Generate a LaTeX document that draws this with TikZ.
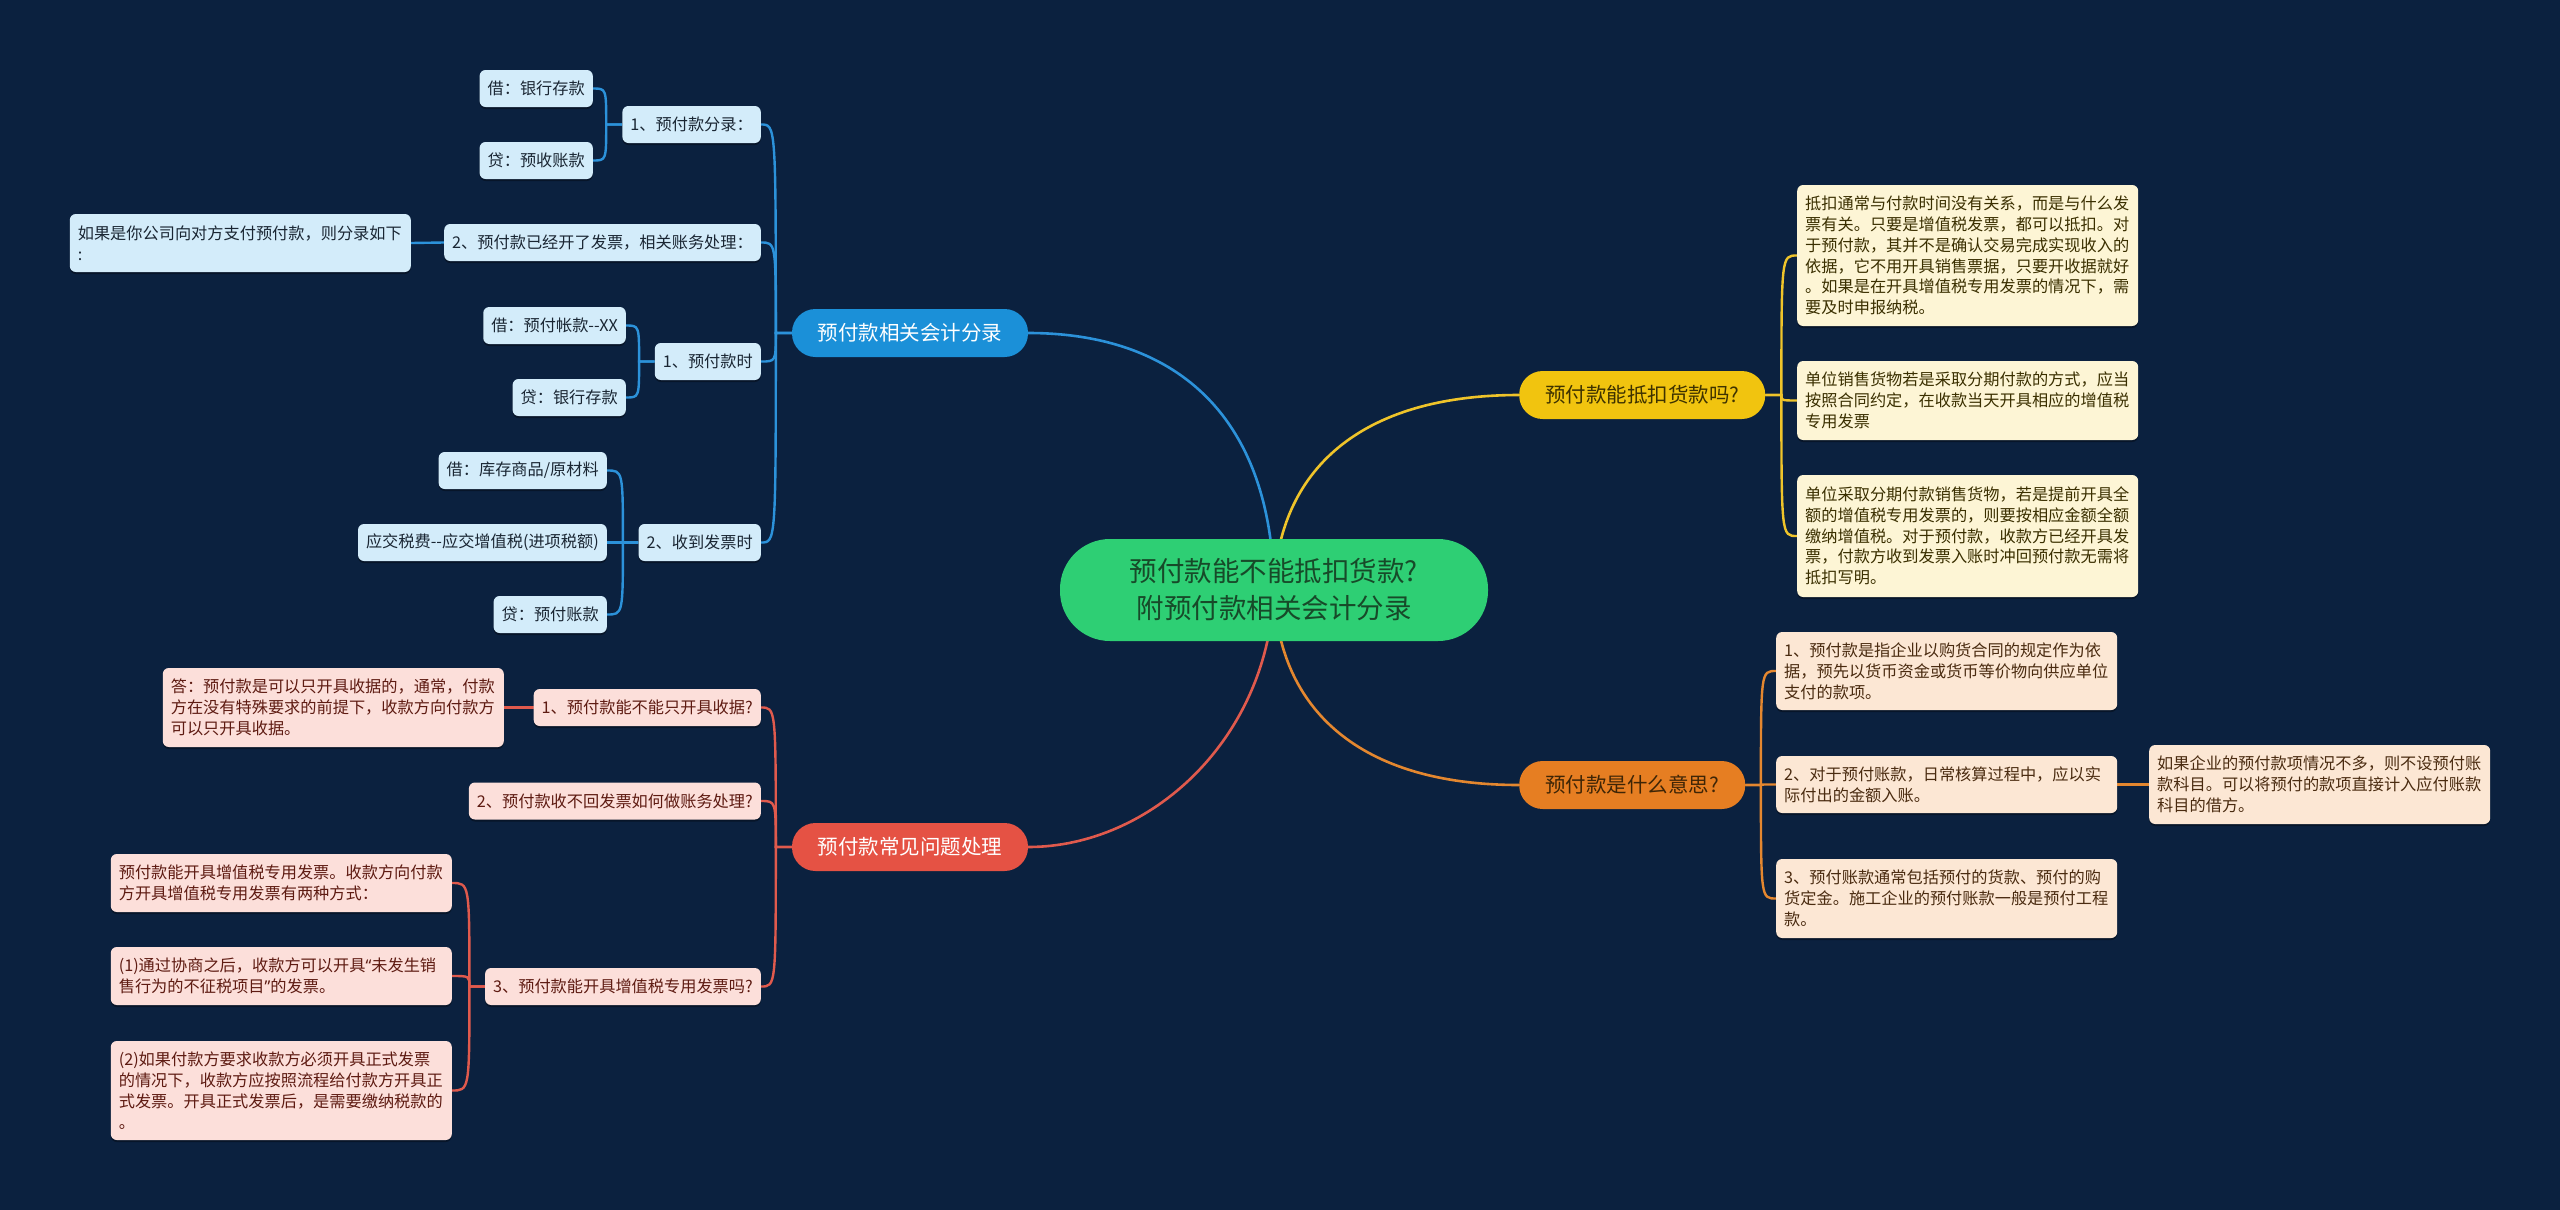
\documentclass[tikz,border=0pt]{standalone}
\usepackage{fontspec}
\setmainfont{Noto Sans CJK SC}
\newfontfamily\latq{Noto Sans}
\usetikzlibrary{calc,shadows}
\pgfdeclarelayer{bgl}
\pgfdeclarelayer{lines}
\pgfsetlayers{bgl,lines,main}
\definecolor{bgc}{HTML}{0B213F}
\definecolor{cgreen}{HTML}{2ECF74}
\definecolor{ctext}{HTML}{174A29}
\definecolor{bnode}{HTML}{1B90D8}
\definecolor{rnode}{HTML}{E55244}
\definecolor{ynode}{HTML}{F1C40F}
\definecolor{onode}{HTML}{E67E22}
\definecolor{ytext}{HTML}{3E3200}
\definecolor{otext}{HTML}{3E2506}
\definecolor{blinec}{HTML}{2C92DA}
\definecolor{rlinec}{HTML}{E05A4D}
\definecolor{ylinec}{HTML}{EFC42A}
\definecolor{olinec}{HTML}{E4872F}
\definecolor{bcardc}{HTML}{D3ECFA}
\definecolor{bcardt}{HTML}{1A2633}
\definecolor{rcardc}{HTML}{FCDFDA}
\definecolor{rcardt}{HTML}{5E1B12}
\definecolor{ycardc}{HTML}{FDF5D5}
\definecolor{ycardt}{HTML}{3A2F00}
\definecolor{ocardc}{HTML}{FCE7D4}
\definecolor{ocardt}{HTML}{4A2B10}
\newcommand\brl[3]{\draw[#1] (#2.west) -- (#2s) .. controls (#2s |- #3.east) and (#2s |- #3.east) .. (#3.east);}
\newcommand\brr[3]{\draw[#1] (#2.east) -- (#2s) .. controls (#2s |- #3.west) and (#2s |- #3.west) .. (#3.west);}
\tikzset{
  card/.style={rounded corners=6pt, inner xsep=8pt, inner ysep=9pt, minimum height=37pt,
    font=\fontsize{16.2}{20.8}\selectfont,
    drop shadow={shadow xshift=0pt,shadow yshift=-2pt,opacity=0.35,fill=black}},
  wcard/.style={text width=325pt, align=left, inner xsep=8pt},
  bcard/.style={card, fill=bcardc, text=bcardt},
  rcard/.style={card, fill=rcardc, text=rcardt},
  ycard/.style={card, fill=ycardc, text=ycardt},
  ocard/.style={card, fill=ocardc, text=ocardt},
  lone/.style={rounded corners=23.5pt, minimum height=48pt, minimum width=236pt, inner sep=0pt,
    font=\fontsize{20.5}{24}\selectfont},
  mainline/.style={line width=2.6pt},
  subline/.style={line width=2.4pt},
  bl/.style={subline, draw=blinec},
  rl/.style={subline, draw=rlinec},
  yl/.style={subline, draw=ylinec},
  ol/.style={subline, draw=olinec}
}
\begin{document}
\begin{tikzpicture}[x=1pt,y=-1pt]
\useasboundingbox (0,0) rectangle (2560,1210);
\begin{pgfonlayer}{bgl}
\fill[bgc] (0,0) rectangle (2560,1210);
\end{pgfonlayer}

% center
\node[fill=cgreen, text=ctext, rounded corners=50pt, minimum width=428pt, minimum height=102pt,
  inner sep=0pt, align=center, font=\fontsize{27.5}{37}\selectfont] (C) at (1274,590)
  {预付款能不能抵扣货款?\\附预付款相关会计分录};

% level 1
\node[lone, fill=bnode, text=white] (B) at (910,333) {预付款相关会计分录};
\node[lone, fill=rnode, text=white] (R) at (910,847) {预付款常见问题处理};
\node[lone, fill=ynode, text=ytext, minimum width=246pt, anchor=west] (Y) at (1519,395) {预付款能抵扣货款吗?};
\node[lone, fill=onode, text=otext, minimum width=226pt, anchor=west] (O) at (1519,785) {预付款是什么意思?};

% blue branch
\node[bcard, anchor=east] (B1) at (761,124.5) {1、预付款分录：};
\node[bcard, anchor=east] (B11) at (593,88.5) {借：银行存款};
\node[bcard, anchor=east] (B12) at (593,160.5) {贷：预收账款};
\node[bcard, anchor=east] (B2) at (761,242.5) {2、预付款已经开了发票，相关账务处理：};
\node[bcard, wcard, anchor=east, minimum height=58pt] (B21) at (411,243) {如果是你公司向对方支付预付款，则分录如下\\:};
\node[bcard, anchor=east] (B3) at (761,361.5) {1、预付款时};
\node[bcard, anchor=east] (B31) at (626,325.5) {借：预付帐款-{}-XX};
\node[bcard, anchor=east] (B32) at (626,397.5) {贷：银行存款};
\node[bcard, anchor=east] (B4) at (761,542.5) {2、收到发票时};
\node[bcard, anchor=east] (B41) at (607,470.5) {借：库存商品/原材料};
\node[bcard, anchor=east] (B42) at (607,542.5) {应交税费-{}-应交增值税(进项税额)};
\node[bcard, anchor=east] (B43) at (607,614.5) {贷：预付账款};

% red branch
\node[rcard, anchor=east] (R1) at (761,707.5) {1、预付款能不能只开具收据?};
\node[rcard, wcard, anchor=east, minimum height=79pt] (R11) at (504,707.5) {答：预付款是可以只开具收据的，通常，付款\\方在没有特殊要求的前提下，收款方向付款方\\可以只开具收据。};
\node[rcard, anchor=east] (R2) at (761,801) {2、预付款收不回发票如何做账务处理?};
\node[rcard, anchor=east] (R3) at (761,986.5) {3、预付款能开具增值税专用发票吗?};
\node[rcard, wcard, anchor=east, minimum height=58pt] (R31) at (452,883) {预付款能开具增值税专用发票。收款方向付款\\方开具增值税专用发票有两种方式：};
\node[rcard, wcard, anchor=east, minimum height=58pt] (R32) at (452,976) {(1)通过协商之后，收款方可以开具{\latq “}未发生销\\售行为的不征税项目{\latq ”}的发票。};
\node[rcard, wcard, anchor=east, minimum height=99pt] (R33) at (452,1090.5) {(2)如果付款方要求收款方必须开具正式发票\\的情况下，收款方应按照流程给付款方开具正\\式发票。开具正式发票后，是需要缴纳税款的\\。};

% yellow branch
\node[ycard, wcard, anchor=west, minimum height=141pt] (Y1) at (1797,255.5) {抵扣通常与付款时间没有关系，而是与什么发\\票有关。只要是增值税发票，都可以抵扣。对\\于预付款，其并不是确认交易完成实现收入的\\依据，它不用开具销售票据，只要开收据就好\\。如果是在开具增值税专用发票的情况下，需\\要及时申报纳税。};
\node[ycard, wcard, anchor=west, minimum height=79pt] (Y2) at (1797,400.5) {单位销售货物若是采取分期付款的方式，应当\\按照合同约定，在收款当天开具相应的增值税\\专用发票};
\node[ycard, wcard, anchor=west, minimum height=122pt] (Y3) at (1797,536) {单位采取分期付款销售货物，若是提前开具全\\额的增值税专用发票的，则要按相应金额全额\\缴纳增值税。对于预付款，收款方已经开具发\\票，付款方收到发票入账时冲回预付款无需将\\抵扣写明。};

% orange branch
\node[ocard, wcard, anchor=west, minimum height=78pt] (O1) at (1776,671) {1、预付款是指企业以购货合同的规定作为依\\据，预先以货币资金或货币等价物向供应单位\\支付的款项。};
\node[ocard, wcard, anchor=west, minimum height=57pt] (O2) at (1776,784.5) {2、对于预付账款，日常核算过程中，应以实\\际付出的金额入账。};
\node[ocard, wcard, anchor=west, minimum height=79pt] (O3) at (1776,898.5) {3、预付账款通常包括预付的货款、预付的购\\货定金。施工企业的预付账款一般是预付工程\\款。};
\node[ocard, wcard, anchor=west, minimum height=79pt] (O21) at (2149,784.5) {如果企业的预付款项情况不多，则不设预付账\\款科目。可以将预付的款项直接计入应付账款\\科目的借方。};

% spine coordinates
\coordinate (Bs) at ($(B.west)+(-16,0)$);
\coordinate (Rs) at ($(R.west)+(-16,0)$);
\coordinate (Ys) at ($(Y.east)+(16,0)$);
\coordinate (Os) at ($(O.east)+(15.5,0)$);
\coordinate (B1s) at ($(B1.west)+(-16,0)$);
\coordinate (B3s) at ($(B3.west)+(-15.5,0)$);
\coordinate (B4s) at ($(B4.west)+(-15.5,0)$);
\coordinate (R3s) at ($(R3.west)+(-15.5,0)$);

\begin{pgfonlayer}{lines}
\draw[mainline, draw=blinec] (C.center) .. controls (1272,420) and (1180,333) .. (B.east);
\draw[mainline, draw=rlinec] (C.center) .. controls (1268,740) and (1150,847) .. (R.east);
\draw[mainline, draw=ylinec] (C.center) .. controls (1278,470) and (1360,395) .. (Y.west);
\draw[mainline, draw=olinec] (C.center) .. controls (1278,710) and (1360,785) .. (O.west);

\brl{bl}{B}{B1}
\brl{bl}{B}{B2}
\brl{bl}{B}{B3}
\brl{bl}{B}{B4}
\brl{bl}{B1}{B11}
\brl{bl}{B1}{B12}
\draw[bl] (B2.west) -- (B21.east);
\brl{bl}{B3}{B31}
\brl{bl}{B3}{B32}
\brl{bl}{B4}{B41}
\brl{bl}{B4}{B42}
\brl{bl}{B4}{B43}

\brl{rl}{R}{R1}
\brl{rl}{R}{R2}
\brl{rl}{R}{R3}
\draw[rl] (R1.west) -- (R11.east);
\brl{rl}{R3}{R31}
\brl{rl}{R3}{R32}
\brl{rl}{R3}{R33}

\brr{yl}{Y}{Y1}
\brr{yl}{Y}{Y2}
\brr{yl}{Y}{Y3}

\brr{ol}{O}{O1}
\brr{ol}{O}{O2}
\brr{ol}{O}{O3}
\draw[ol] (O2.east) -- (O21.west);
\end{pgfonlayer}
\end{tikzpicture}
\end{document}
